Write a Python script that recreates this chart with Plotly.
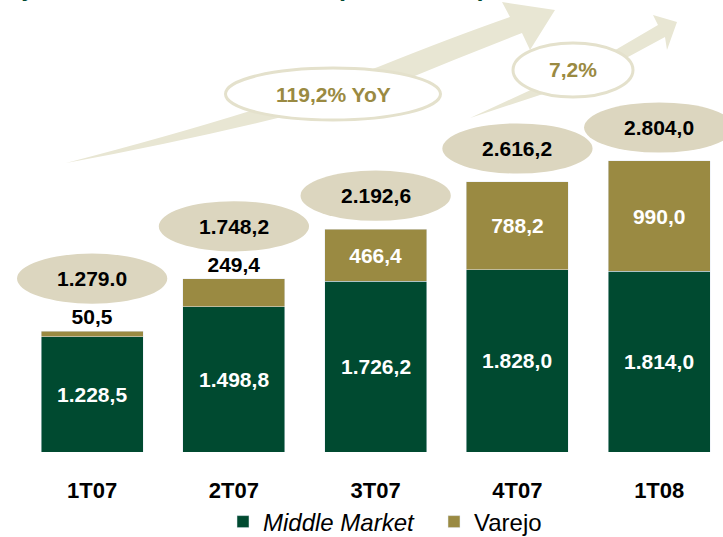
import plotly.graph_objects as go

# Data (R$ milhoes)
quarters = ['1T07', '2T07', '3T07', '4T07', '1T08']
middle_market = [1228.5, 1498.8, 1726.2, 1828.0, 1814.0]
varejo = [50.5, 249.4, 466.4, 788.2, 990.0]
total_labels = ['1.279.0', '1.748,2', '2.192,6', '2.616,2', '2.804,0']
growth_labels = ['119,2% YoY', '7,2%']

GREEN = '#004A30'
OLIVE = '#9A8A42'
BEIGE = '#DCD6BF'
ARROW = '#E8E6D3'
FONT = 'Arial, Liberation Sans, sans-serif'

W, H = 723, 537
PLOT_H = 452  # plot area height in px (margin top 0)
Y_MIN = 194   # the original chart's value axis does not start at zero


def br(v):
    s = f'{v:,.1f}'
    return s.replace(',', '#').replace('.', ',').replace('#', '.')


def pp(x, y):
    # pixel -> paper coords
    return x / W, 1 - y / PLOT_H


def path(segments):
    # plotly wants one point (or one curve) per command
    out = []
    for cmd, pts in segments:
        out.append(cmd + ' ' + ' '.join('%.5f,%.5f' % pp(*p) for p in pts))
    return ' '.join(out) + ' Z'


totals = [m + v for m, v in zip(middle_market, varejo)]
varejo_pos = ['outside' if v < 300 else 'inside' for v in varejo]

fig = go.Figure()
fig.add_trace(go.Bar(
    x=quarters, y=middle_market, name='<i>Middle Market</i>',
    marker_color=GREEN, width=0.72,
))
fig.add_trace(go.Bar(
    x=quarters, y=varejo, name='Varejo',
    marker_color=OLIVE, width=0.72,
    text=[br(v) for v in varejo], textposition=varejo_pos,
    insidetextanchor='middle',
    insidetextfont=dict(color='white', size=21, family=FONT, weight='bold'),
    outsidetextfont=dict(color='black', size=21, family=FONT, weight='bold'),
    cliponaxis=False,
))

# middle market labels centred on the visible part of the bar
for q, m in zip(quarters, middle_market):
    fig.add_annotation(x=q, y=(Y_MIN + m) / 2, xref='x', yref='y',
                       text=f'<b>{br(m)}</b>', showarrow=False,
                       xanchor='center', yanchor='middle',
                       font=dict(color='white', size=21, family=FONT))

shapes = []
# growth arrows (decoration)
arrow1 = path([
    ('M', [(66, 163)]),
    ('Q', [(170, 136), (250, 111)]),
    ('L', [(378, 67)]),
    ('Q', [(450, 38), (510, 17)]),
    ('L', [(502, 2)]), ('L', [(555, 10)]), ('L', [(530, 50)]), ('L', [(522, 33)]),
    ('Q', [(460, 57), (400, 82)]),
    ('L', [(290, 115)]),
    ('Q', [(180, 142), (66, 163)]),
])
arrow2 = path([
    ('M', [(470, 118)]),
    ('L', [(535, 88)]), ('L', [(617, 49)]), ('L', [(658, 25)]),
    ('L', [(653, 15)]), ('L', [(677, 22)]), ('L', [(667, 50)]), ('L', [(665, 37)]),
    ('L', [(628, 57)]), ('L', [(543, 94)]),
])
for p in (arrow1, arrow2):
    shapes.append(dict(type='path', path=p, xref='paper', yref='paper',
                       fillcolor=ARROW, line=dict(width=0)))

# growth ellipses
growth_boxes = [(333, 94, 215, 52), (573, 70, 120, 54)]
for (cx, cy, w, h), lab in zip(growth_boxes, growth_labels):
    x0, y0 = pp(cx - w / 2, cy + h / 2)
    x1, y1 = pp(cx + w / 2, cy - h / 2)
    shapes.append(dict(type='circle', xref='paper', yref='paper',
                       x0=x0, x1=x1, y0=y0, y1=y1,
                       fillcolor='white', line=dict(color='#E4E1CC', width=3)))
    fig.add_annotation(x=(x0 + x1) / 2, y=(y0 + y1) / 2, xref='paper', yref='paper',
                       xanchor='center', yanchor='middle',
                       text=f'<b>{lab}</b>', showarrow=False,
                       font=dict(color=OLIVE, size=21, family=FONT))

# total ellipses above each bar
for i, (t, v, lab) in enumerate(zip(totals, varejo, total_labels)):
    off = 470 if v < 300 else 300
    cy = t + off
    shapes.append(dict(type='circle', xref='x', yref='y',
                       x0=i - 0.53, x1=i + 0.53, y0=cy - 225, y1=cy + 225,
                       fillcolor=BEIGE, line=dict(width=0)))
    fig.add_annotation(x=i, y=cy, xref='x', yref='y', text=f'<b>{lab}</b>',
                       showarrow=False, xanchor='center', yanchor='middle',
                       font=dict(color='black', size=21, family=FONT))

# title (cut off at the top edge in the original)
fig.add_annotation(x=488 / W, y=1 + 13 / PLOT_H, xref='paper', yref='paper',
                   xanchor='right', yanchor='middle',
                   text='<b>Evolução da Carteira de Crédito (R$ milhões)</b>',
                   showarrow=False, font=dict(color=GREEN, size=25, family=FONT))

fig.update_layout(
    width=W, height=H,
    margin=dict(l=0, r=0, t=0, b=H - PLOT_H, autoexpand=False),
    barmode='stack',
    plot_bgcolor='white', paper_bgcolor='white',
    shapes=shapes,
    font=dict(family=FONT, color='black'),
    legend=dict(orientation='h', x=223 / W, xanchor='left', y=-(522 - PLOT_H) / PLOT_H,
                yanchor='middle', font=dict(size=24, family=FONT),
                entrywidth=166, entrywidthmode='pixels',
                bgcolor='rgba(0,0,0,0)', traceorder='normal'),
    xaxis=dict(range=[-0.65, 4.45], showgrid=False, showline=False, zeroline=False,
               ticks='', ticklabelstandoff=23,
               tickfont=dict(size=22, family=FONT, color='black', weight='bold')),
    yaxis=dict(range=[Y_MIN, Y_MIN + PLOT_H / 0.1115], visible=False, showgrid=False),
)

# drop the default body margin so the figure sits at the window corner
fig.write_html('out.html', config={'displayModeBar': False},
               post_script="document.body.style.margin='0';")
